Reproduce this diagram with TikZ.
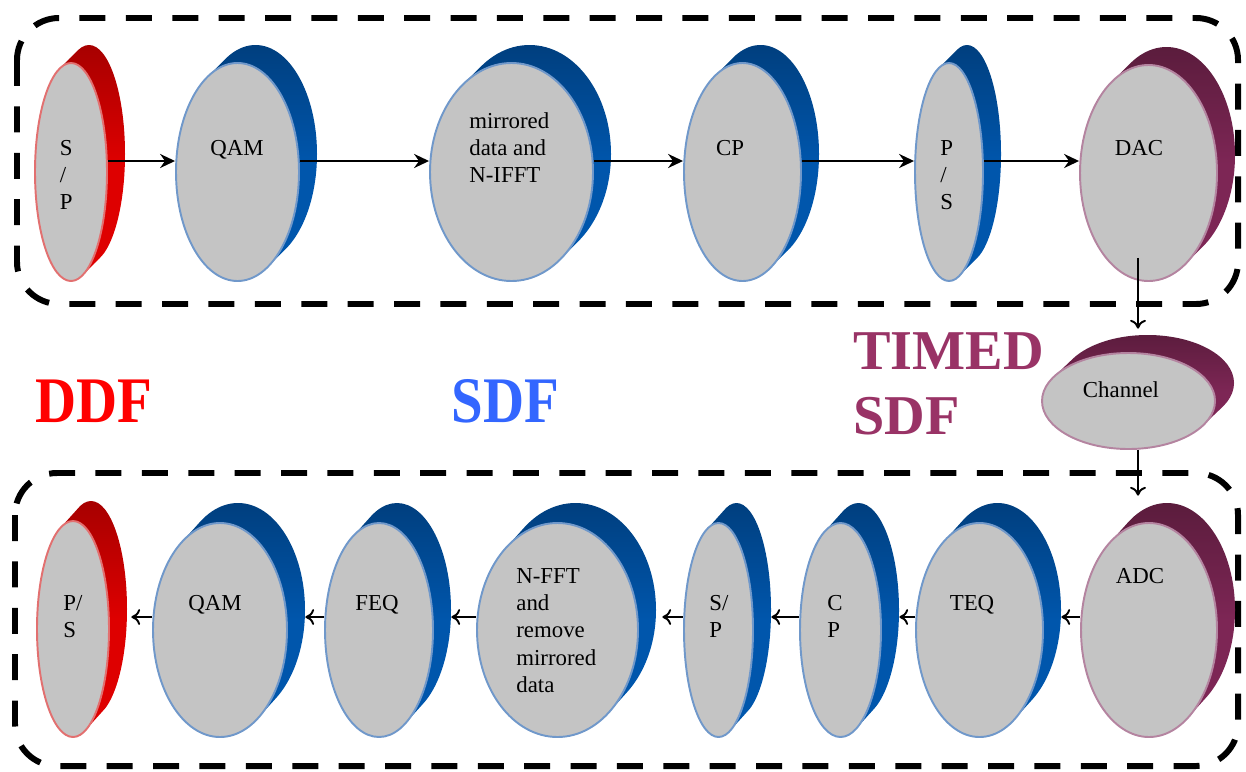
\documentclass[tikz,border=0pt]{standalone}
\usepackage{fontspec}
\setmainfont{Liberation Serif}
\usetikzlibrary{calc,shapes.geometric,arrows.meta}

% palette of the three dataflow classes
\definecolor{discgray}{RGB}{196,196,196}
\definecolor{reddk}{RGB}{165,0,0}
\definecolor{redmn}{RGB}{222,0,0}
\definecolor{redrim}{RGB}{226,112,112}
\definecolor{bludk}{RGB}{0,62,125}
\definecolor{blumn}{RGB}{0,86,172}
\definecolor{blurim}{RGB}{112,152,202}
\definecolor{purdk}{RGB}{90,28,60}
\definecolor{purmn}{RGB}{125,38,85}
\definecolor{purrim}{RGB}{180,132,160}
\definecolor{ddfred}{RGB}{255,0,0}
\definecolor{sdfblue}{RGB}{51,102,255}
\definecolor{timedpurple}{RGB}{153,51,102}

\tikzset{
  x=0.02cm, y=-0.02cm,
  frontdisc/.style={ellipse, inner sep=0pt, fill=discgray, line width=1.1pt},
  backdisc/.style={ellipse, inner sep=0pt},
  lbl/.style={font=\fontsize{13}{15.5}\selectfont, inner sep=0pt, align=left},
  biglbl/.style={font=\fontsize{32}{37.4}\selectfont\bfseries, inner sep=0pt, align=left},
  classlbl/.style={font=\fontsize{37}{40}\selectfont\bfseries, inner sep=0pt, xscale=0.875},
  groupbox/.style={draw, line width=3.4pt, dash pattern=on 14.8pt off 11.6pt, rounded corners=0.84cm},
  flowa/.style={-{Stealth[length=8.5pt,width=8pt,inset=2.8pt]}, line width=1.1pt},
  flowb/.style={-{To[length=5pt,width=9pt]}, line width=1.1pt},
}

% extruded disc: name, cx, cy, rx, ry, dx, dy, palette
\newcommand\ovaldisc[8]{%
  \begin{scope}
    \clip \foreach \k in {0,0.05,...,1.001} {($(#2,#3)+\k*(#6,#7)$) ellipse [x radius=#4*0.02cm, y radius=#5*0.02cm]};
    \shade[top color=#8dk, bottom color=#8mn, middle color=#8mn]
      (#2-#4-4,#3-#5+#7-4) rectangle (#2+#4+#6+4,#3+#5+4);
  \end{scope}
  \node[backdisc, minimum width=2*#4*0.02cm, minimum height=2*#5*0.02cm] (#1-b) at ($(#2,#3)+(#6,#7)$) {};
  \node[frontdisc, draw=#8rim, minimum width=2*#4*0.02cm, minimum height=2*#5*0.02cm] (#1) at (#2,#3) {};
}

\begin{document}
\begin{tikzpicture}
\useasboundingbox (0,0) rectangle (1246,771);

% group frames
\draw[groupbox] (17,18) rectangle (1238,304);
\draw[groupbox] (15,473) rectangle (1238,766);

% transmitter chain
\ovaldisc{sp1}{71}{172}{36}{109}{18}{-18}{red}
\ovaldisc{qam1}{237.5}{172}{61.5}{109}{18}{-18}{blu}
\ovaldisc{mir}{511.5}{172}{81.5}{109}{18}{-18}{blu}
\ovaldisc{cp1}{742.5}{172}{58.5}{109}{18}{-18}{blu}
\ovaldisc{ps1}{949}{172}{34}{109}{18}{-18}{blu}
\ovaldisc{dac}{1148.5}{173}{68.5}{108}{18}{-18}{pur}

% channel
\ovaldisc{chan}{1128.5}{401}{86.5}{48}{19}{-18}{pur}

% receiver chain
\ovaldisc{adc}{1149}{630}{68}{107}{18}{-20}{pur}
\ovaldisc{teq}{979.5}{630}{63.5}{107}{18}{-20}{blu}
\ovaldisc{cp2}{840.5}{630}{40.5}{107}{18}{-20}{blu}
\ovaldisc{sp2}{718.5}{630}{34.5}{107}{18}{-20}{blu}
\ovaldisc{fft}{557.5}{630}{80.5}{107}{18}{-20}{blu}
\ovaldisc{feq}{379}{630}{54}{107}{18}{-20}{blu}
\ovaldisc{qam2}{220}{630}{67}{107}{18}{-20}{blu}
\ovaldisc{ps2}{73}{629}{36}{108}{18}{-20}{red}

% block labels
\node[lbl, anchor=north west] (sp1-t) at (59.5,140) {S\\/\\P};
\node[lbl, anchor=north] (qam1-t) at (237,140) {QAM};
\node[lbl, anchor=north west] (mir-t) at (469,112) {mirrored\\data and\\N-IFFT};
\node[lbl, anchor=north] (cp1-t) at (730,140) {CP};
\node[lbl, anchor=north west] (ps1-t) at (940,140) {P\\/\\S};
\node[lbl, anchor=north] (dac-t) at (1139,140) {DAC};
\node[lbl, anchor=north] (chan-t) at (1121,381) {Channel};
\node[lbl, anchor=north] (adc-t) at (1140,568) {ADC};
\node[lbl, anchor=north] (teq-t) at (972,595) {TEQ};
\node[lbl, anchor=north west] (cp2-t) at (827,595) {C\\P};
\node[lbl, anchor=north west] (sp2-t) at (709,595) {S/\\P};
\node[lbl, anchor=north west] (fft-t) at (516,568) {N-FFT\\and\\remove\\mirrored\\data};
\node[lbl, anchor=north] (feq-t) at (377,595) {FEQ};
\node[lbl, anchor=north] (qam2-t) at (215,595) {QAM};
\node[lbl, anchor=north west] (ps2-t) at (63,595) {P/\\S};

% dataflow class labels
\node[classlbl, text=ddfred] (ddf) at (94,401.5) {DDF};
\node[classlbl, text=sdfblue] (sdf) at (505.5,401) {SDF};
\node[biglbl, text=timedpurple, anchor=north west] (tsdf) at (853,332) {TIMED\\SDF};

% signal rows
\coordinate (rowa) at (0,161);
\coordinate (rowb) at (0,617);
\coordinate (colv) at (1138,0);

\draw[flowa] (sp1.east |- rowa) -- (qam1.west |- rowa);
\draw[flowa] (qam1.east |- rowa) -- (mir.west |- rowa);
\draw[flowa] (mir.east |- rowa) -- (cp1.west |- rowa);
\draw[flowa] (cp1.east |- rowa) -- (ps1.west |- rowa);
\draw[flowa] (ps1.east |- rowa) -- (dac.west |- rowa);

\draw[flowb] ($(colv |- dac.south)+(0,-24)$) -- ($(colv |- chan-b.north)+(0,-6)$);
\draw[flowb] (colv |- chan.south) -- ($(colv |- adc-b.north)+(0,-7)$);

\draw[flowb] (adc.west |- rowb) -- (teq-b.east |- rowb);
\draw[flowb] (teq.west |- rowb) -- (cp2-b.east |- rowb);
\draw[flowb] (cp2.west |- rowb) -- (sp2-b.east |- rowb);
\draw[flowb] (sp2.west |- rowb) -- ($(fft-b.east |- rowb)+(6,0)$);
\draw[flowb] (fft.west |- rowb) -- (feq-b.east |- rowb);
\draw[flowb] (feq.west |- rowb) -- (qam2-b.east |- rowb);
\draw[flowb] (qam2.west |- rowb) -- ($(ps2-b.east |- rowb)+(4,0)$);
\end{tikzpicture}
\end{document}
